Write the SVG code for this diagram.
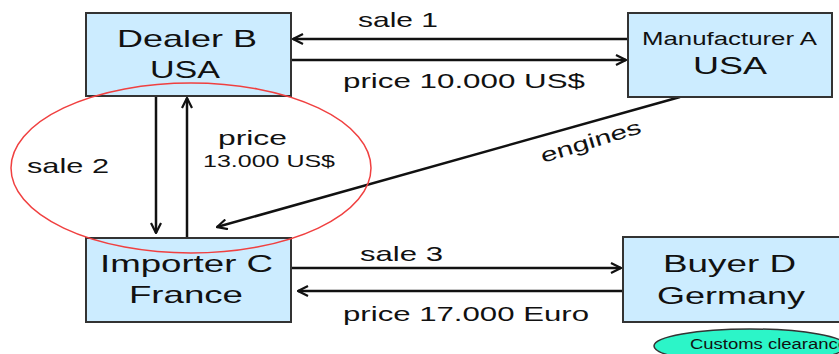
<svg xmlns="http://www.w3.org/2000/svg" width="839" height="354" viewBox="0 0 839 354">
<style>
.box{fill:#CCECFF;stroke:#333;stroke-width:2}
.t{font-family:"Liberation Sans",Arial,sans-serif;fill:#111}
.big{font-size:24px}
.lbl{font-size:21px}
.ln{stroke:#111;stroke-width:2.5;fill:none}
</style>
<defs>
<marker id="ah" viewBox="0 0 12 12" refX="11" refY="6" markerWidth="12" markerHeight="12" markerUnits="userSpaceOnUse" orient="auto">
<path d="M1,1 L11,6 L1,11" fill="none" stroke="#111" stroke-width="2.2"/>
</marker>
</defs>
<rect width="839" height="354" fill="#fff"/>
<g id="connectors">
<line class="ln" x1="628" y1="39" x2="293" y2="39" marker-end="url(#ah)"/>
<line class="ln" x1="291" y1="60" x2="626" y2="60" marker-end="url(#ah)"/>
<line class="ln" x1="156" y1="96" x2="156" y2="233" marker-end="url(#ah)"/>
<line class="ln" x1="187" y1="238" x2="187" y2="98" marker-end="url(#ah)"/>
<line class="ln" x1="680" y1="97" x2="217" y2="227" marker-end="url(#ah)"/>
<line class="ln" x1="291" y1="268" x2="621" y2="268" marker-end="url(#ah)"/>
<line class="ln" x1="623" y1="291" x2="298" y2="291" marker-end="url(#ah)"/>
<text class="t lbl" x="358" y="27" textLength="80" lengthAdjust="spacingAndGlyphs">sale 1</text>
<text class="t lbl" x="343" y="88" textLength="242" lengthAdjust="spacingAndGlyphs">price 10.000 US$</text>
<text class="t lbl" x="27" y="173" textLength="82" lengthAdjust="spacingAndGlyphs">sale 2</text>
<text class="t lbl" x="218" y="145" textLength="69" lengthAdjust="spacingAndGlyphs">price</text>
<text class="t" font-size="17" x="203" y="167" textLength="132" lengthAdjust="spacingAndGlyphs">13.000 US$</text>
<text class="t" font-size="20" transform="translate(543,163) rotate(-17)" textLength="104" lengthAdjust="spacingAndGlyphs">engines</text>
<text class="t lbl" x="360" y="261" textLength="83" lengthAdjust="spacingAndGlyphs">sale 3</text>
<text class="t lbl" x="343" y="321" textLength="246" lengthAdjust="spacingAndGlyphs">price 17.000 Euro</text>
</g>
<g id="dealerB">
<rect class="box" x="86" y="13" width="205" height="83"/>
<text class="t big" x="117" y="47" textLength="140" lengthAdjust="spacingAndGlyphs">Dealer B</text>
<text class="t big" x="150" y="78" textLength="70" lengthAdjust="spacingAndGlyphs">USA</text>
</g>
<g id="manufacturerA">
<rect class="box" x="628" y="13" width="204" height="84"/>
<text class="t" font-size="18" x="642" y="45" textLength="175" lengthAdjust="spacingAndGlyphs">Manufacturer  A</text>
<text class="t big" x="693" y="74" textLength="74" lengthAdjust="spacingAndGlyphs">USA</text>
</g>
<g id="importerC">
<rect class="box" x="86" y="238" width="205" height="84"/>
<text class="t big" x="100" y="272" textLength="173" lengthAdjust="spacingAndGlyphs">Importer C</text>
<text class="t big" x="129" y="303" textLength="114" lengthAdjust="spacingAndGlyphs">France</text>
</g>
<g id="buyerD">
<rect class="box" x="623" y="237" width="220" height="85"/>
<text class="t big" x="663" y="272" textLength="133" lengthAdjust="spacingAndGlyphs">Buyer D</text>
<text class="t big" x="657" y="304" textLength="148" lengthAdjust="spacingAndGlyphs">Germany</text>
</g>
<g id="highlight">
<ellipse cx="191" cy="168" rx="180" ry="85" fill="none" stroke="#F04040" stroke-width="1.5"/>
</g>
<g id="customs">
<ellipse cx="750" cy="346" rx="96" ry="17" fill="#2CF5C8" stroke="#333" stroke-width="1.5"/>
<text class="t" font-size="14" x="690" y="349" textLength="158" lengthAdjust="spacingAndGlyphs">Customs clearance</text>
</g>
</svg>
